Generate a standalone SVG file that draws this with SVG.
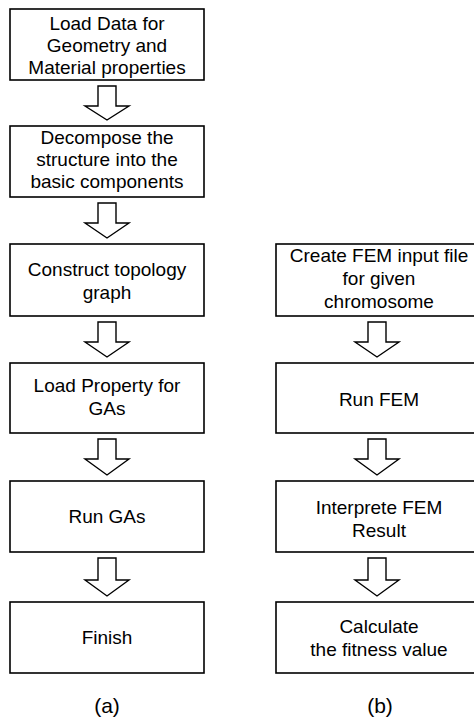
<svg xmlns="http://www.w3.org/2000/svg" width="474" height="721" viewBox="0 0 474 721">
<style>
.box{fill:#fff;stroke:#000;stroke-width:1.6}
.arr{fill:#fff;stroke:#000;stroke-width:1.4;stroke-linejoin:miter}
text{font-family:"Liberation Sans",Arial,sans-serif;font-size:19px;fill:#000;text-anchor:middle}
.cap{font-size:21px}
</style>
<rect width="474" height="721" fill="#fff"/>
<g id="a1"><rect class="box" x="10" y="9" width="194" height="71"/><text x="107" y="30">Load Data for</text><text x="107" y="52">Geometry and</text><text x="107" y="74">Material properties</text></g>
<g id="a2"><rect class="box" x="10" y="126" width="194" height="71"/><text x="107" y="144">Decompose the</text><text x="107" y="166">structure into the</text><text x="107" y="188">basic components</text></g>
<g id="a3"><rect class="box" x="10" y="244" width="194" height="72"/><text x="107" y="276">Construct topology</text><text x="107" y="299">graph</text></g>
<g id="a4"><rect class="box" x="10" y="363" width="194" height="70"/><text x="107" y="392">Load Property for</text><text x="107" y="415">GAs</text></g>
<g id="a5"><rect class="box" x="10" y="481" width="194" height="71"/><text x="107" y="523">Run GAs</text></g>
<g id="a6"><rect class="box" x="10" y="602" width="194" height="71"/><text x="107" y="644">Finish</text></g>
<g id="b1"><rect class="box" x="276" y="244" width="206" height="72"/><text x="379" y="262">Create FEM input file</text><text x="379" y="285">for given</text><text x="379" y="308">chromosome</text></g>
<g id="b2"><rect class="box" x="276" y="363" width="206" height="70"/><text x="379" y="406">Run FEM</text></g>
<g id="b3"><rect class="box" x="276" y="481" width="206" height="71"/><text x="379" y="514">Interprete FEM</text><text x="379" y="537">Result</text></g>
<g id="b4"><rect class="box" x="276" y="602" width="206" height="71"/><text x="379" y="633">Calculate</text><text x="379" y="656">the fitness value</text></g>
<g id="connectors">
<polygon class="arr" points="98,86 116,86 116,106 129,106 107,120 85,106 98,106"/>
<polygon class="arr" points="98,203 116,203 116,223 129,223 107,238 85,223 98,223"/>
<polygon class="arr" points="98,322 116,322 116,342 129,342 107,357 85,342 98,342"/>
<polygon class="arr" points="98,439 116,439 116,459 129,459 107,475 85,459 98,459"/>
<polygon class="arr" points="98,558 116,558 116,580 129,580 107,596 85,580 98,580"/>
<polygon class="arr" points="368,322 386,322 386,342 399,342 377,357 355,342 368,342"/>
<polygon class="arr" points="368,439 386,439 386,459 399,459 377,475 355,459 368,459"/>
<polygon class="arr" points="368,558 386,558 386,580 399,580 377,596 355,580 368,580"/>
</g>
<text class="cap" x="107" y="713">(a)</text>
<text class="cap" x="380" y="713">(b)</text>
</svg>
